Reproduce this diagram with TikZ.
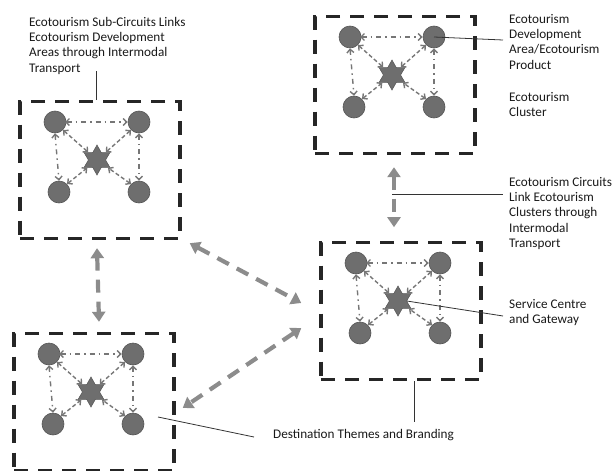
\documentclass[tikz,border=0pt]{standalone}
\usepackage{fontspec}
\setmainfont{Carlito}
\usetikzlibrary{arrows.meta,shapes.geometric,calc}
\definecolor{boxc}{HTML}{262626}
\definecolor{dotc}{HTML}{6E6E6E}
\definecolor{dotb}{HTML}{555555}
\definecolor{arrc}{HTML}{767676}
\definecolor{bigc}{HTML}{8C8C8C}
\tikzset{
  clusterbox/.style={draw=boxc, line width=3.4pt, dash pattern=on 14pt off 10pt,
    minimum width=160pt, minimum height=137pt, inner sep=0pt},
  area/.style={circle, fill=dotc, draw=dotb, line width=0.6pt, minimum size=22pt, inner sep=0pt},
  hub/.style={star, star points=6, star point ratio=1.75, fill=dotc, draw=dotb, line width=0.5pt,
    minimum size=30pt, inner sep=0pt},
  smallarr/.style={draw=arrc, line width=1.4pt, {Straight Barb[length=3.5pt,width=7pt]}-{Straight Barb[length=3.5pt,width=7pt]}},
  dd/.style={smallarr, dash pattern=on 5pt off 4pt on 1.5pt off 4pt},
  dg/.style={smallarr, dash pattern=on 4pt off 2.5pt},
  bigarr/.style={draw=bigc, line width=4.2pt, dash pattern=on 13pt off 9pt,
    {Triangle[length=10pt,width=13pt]}-{Triangle[length=10pt,width=13pt]}},
  lbl/.style={align=left, anchor=north west, font=\fontsize{13.2pt}{15.3pt}\selectfont, inner sep=0pt, text=black!90},
  leader/.style={draw=black!80, line width=0.8pt}
}
\newcommand{\mycluster}[3]{%
  \node[clusterbox] (#1) at (#2,#3) {};
  \node[hub] (#1-s) at ($(#1.center)+(-3,-10)$) {};
  \node[area] (#1-tl) at ($(#1-s)+(-42,-38)$) {};
  \node[area] (#1-tr) at ($(#1-s)+(42,-38)$) {};
  \node[area] (#1-bl) at ($(#1-s)+(-38,32)$) {};
  \node[area] (#1-br) at ($(#1-s)+(42,32)$) {};
  \draw[dd] ($(#1-tl.center)+(10,0)$) -- (#1-tr.west);
  \draw[dd] (#1-tl.south) -- (#1-bl.north);
  \draw[dd] (#1-tr.south) -- (#1-br.north);
  \draw[dg] (#1-tl.south east) -- (#1-s);
  \draw[dg] (#1-tr.south west) -- (#1-s);
  \draw[dg] (#1-bl.north east) -- (#1-s);
  \draw[dg] (#1-br.north west) -- (#1-s);
}
\begin{document}
\begin{tikzpicture}[x=1pt,y=-1pt]
\useasboundingbox (0,0) rectangle (616,471);
\mycluster{b1}{395}{85}
\mycluster{b2}{100}{170}
\mycluster{b3}{94}{402}
\mycluster{b4}{401}{311}
% inter-cluster connectors
\draw[bigarr] ($(b1.south)+(-1,12)$) -- ($(b1.south)+(-1,72)$);
\draw[bigarr] ($(b2.south)+(-3,8)$) -- ($(b3.north)+(5,-10)$);
\draw[bigarr] ($(b2.south east)+(8,3)$) -- ($(b4.west)+(-18,-8)$);
\draw[bigarr] ($(b4.west)+(-18,17)$) -- ($(b3.east)+(7,6)$);
% labels
\node[lbl] (t1) at (29,17) {Ecotourism Sub-Circuits Links\\Ecotourism Development\\Areas through Intermodal\\Transport};
\node[lbl] (t2) at (509,14) {Ecotourism\\Development\\Area/Ecotourism\\Product};
\node[lbl] (t3) at (509,92) {Ecotourism\\Cluster};
\node[lbl] (t4) at (509,177) {Ecotourism Circuits\\Link Ecotourism\\Clusters through\\Intermodal\\Transport};
\node[lbl] (t5) at (509,299) {Service Centre\\and Gateway};
\node[lbl] (t6) at (273,429) {Destination Themes and Branding};
% leaders
\coordinate (l1) at (96,71);
\draw[leader] (l1) -- (l1 |- b2.north);
\coordinate (l2) at (503,40);
\draw[leader] (b1-tr.center) -- (l2);
\coordinate (l4a) at (392,194);
\coordinate (l4b) at (503,194);
\draw[leader] (l4a) -- (l4b);
\coordinate (l5) at (503,316);
\draw[leader] (b4-s.east) -- (l5);
\coordinate (l6a) at (158,417);
\coordinate (l6b) at (254,437);
\draw[leader] (l6a) -- (l6b);
\coordinate (l7) at (414,422);
\draw[leader] (l7 |- b4.south) -- (l7);
\end{tikzpicture}
\end{document}
